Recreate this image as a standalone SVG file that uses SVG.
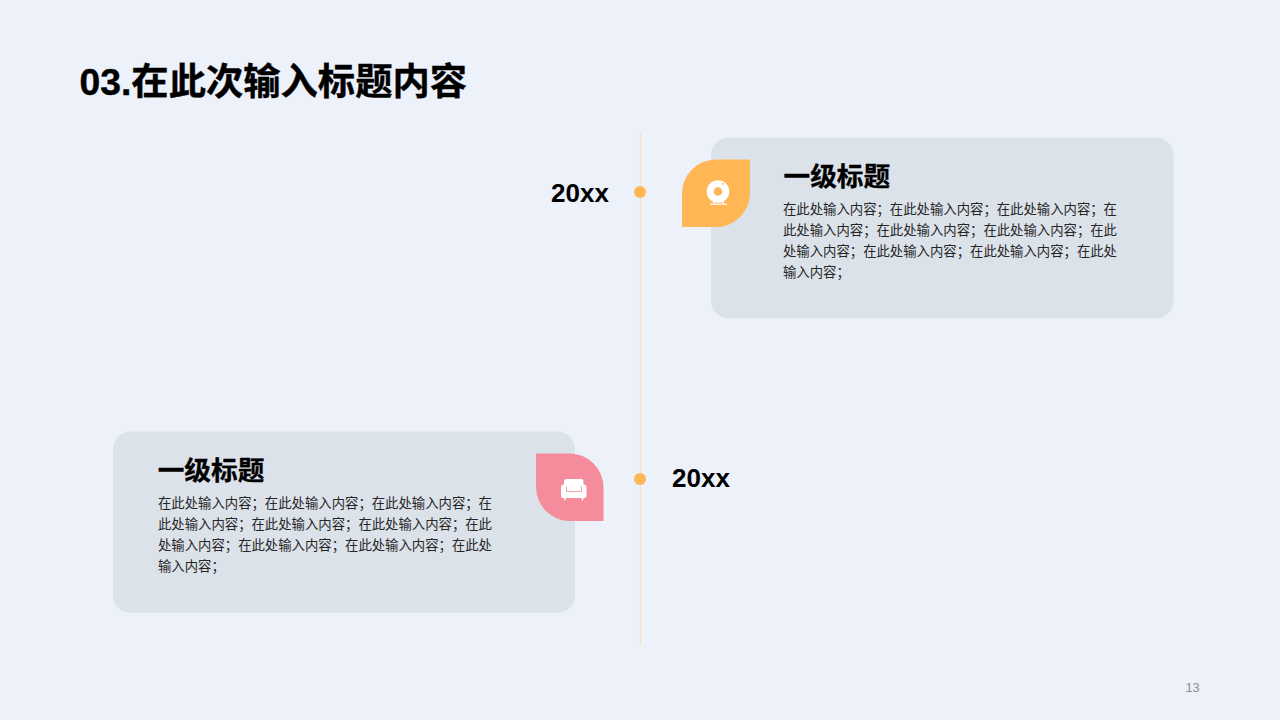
<svg xmlns="http://www.w3.org/2000/svg" width="1280" height="720" viewBox="0 0 1280 720">
<style>
text{font-family:"Liberation Sans","Noto Sans CJK SC",sans-serif}
.card{fill:#dce2ea}
.h{font-size:26.7px;font-weight:bold;fill:#000;stroke:#000;stroke-width:.3px}
.b{font-size:13.36px;fill:#262626}
.y{font-size:26px;font-weight:bold;fill:#000}
.dot{fill:#ffb655}
</style>
<rect width="1280" height="720" fill="#ecf1fa"/>
<text id="title" x="79.500" y="94.500" font-size="37.3" font-weight="bold" fill="#000" stroke="#000" stroke-width=".4">03.在此次输入标题内容</text>
<g id="connectors"><line x1="640.5" y1="133" x2="640.5" y2="645" stroke="#fbe2bd" stroke-width="1.3"/></g>
<g id="node-top">
<rect class="card" x="711" y="137.500" width="462.500" height="181" rx="18"/>
<path d="M750 159.500H716A34 34 0 0 0 682 193.500V227H716A34 34 0 0 0 750 193Z" fill="#ffb655"/>
<circle cx="718" cy="191.500" r="7.800" fill="none" stroke="#fff" stroke-width="7"/>
<circle cx="723" cy="184" r="1" fill="#ffb655"/>
<path d="M714.500 200l-.8 3.500M722.500 200l.8 3.500" stroke="#fff" stroke-width="1.500" fill="none"/>
<rect x="710" y="203.600" width="17" height="1.200" fill="#fff"/>
<text class="h" x="783.500" y="185.500">一级标题</text>
<text class="b"><tspan x="783" y="214">在此处输入内容；在此处输入内容；在此处输入内容；在</tspan><tspan x="783" y="235">此处输入内容；在此处输入内容；在此处输入内容；在此</tspan><tspan x="783" y="256">处输入内容；在此处输入内容；在此处输入内容；在此处</tspan><tspan x="783" y="277">输入内容；</tspan></text>
<circle class="dot" cx="640" cy="192" r="6"/>
<text class="y" x="551" y="202">20xx</text>
</g>
<g id="node-bottom">
<rect class="card" x="113" y="431.500" width="462" height="181.500" rx="18"/>
<path d="M536 453.500H569.500A34 34 0 0 1 603.500 487.500V521H570A34 34 0 0 1 536 487Z" fill="#f58c9b"/>
<path d="M566.500 479H581Q583.500 479 583.500 481.500V484.500Q586.500 484.500 586.500 487.500V496Q586.500 498 584.500 498H583.500L583 500.500H582L581.500 498H566L565.500 500.500H564.500L564 498H563Q561 498 561 496V487.500Q561 484.500 564 484.500V481.500Q564 479 566.500 479Z" fill="#fff"/>
<path d="M566.500 486.500V491.500H581.500V486.500" fill="none" stroke="#f58c9b" stroke-width=".8"/>
<text class="h" x="157.700" y="479.500">一级标题</text>
<text class="b"><tspan x="158" y="508">在此处输入内容；在此处输入内容；在此处输入内容；在</tspan><tspan x="158" y="529">此处输入内容；在此处输入内容；在此处输入内容；在此</tspan><tspan x="158" y="550">处输入内容；在此处输入内容；在此处输入内容；在此处</tspan><tspan x="158" y="571">输入内容；</tspan></text>
<circle class="dot" cx="640" cy="479" r="6"/>
<text class="y" x="672" y="486.500">20xx</text>
</g>
<text id="page" x="1185.500" y="692" font-size="12.800" fill="#8c8c8c">13</text>
</svg>
